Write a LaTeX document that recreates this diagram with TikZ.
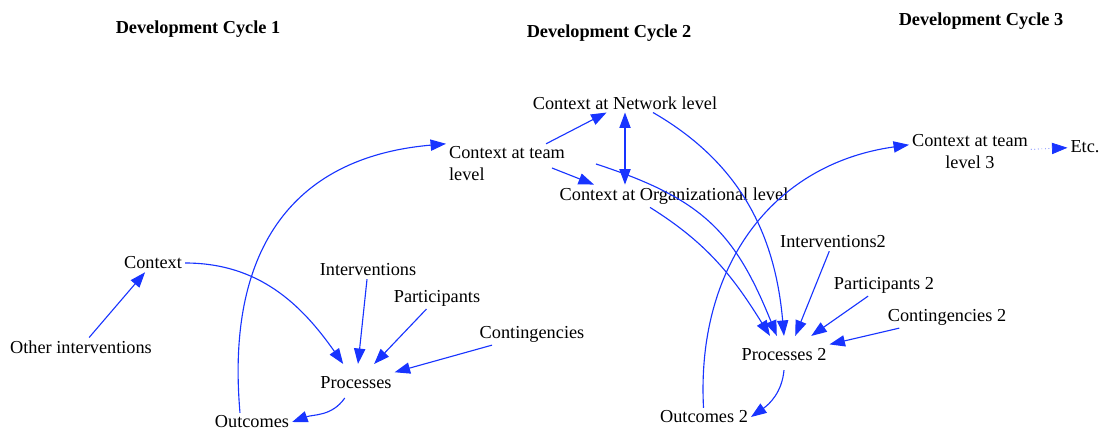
\documentclass[tikz,border=0pt]{standalone}
\usepackage{fontspec}
\setmainfont{Liberation Serif}
\usetikzlibrary{arrows.meta}
\definecolor{linkblue}{RGB}{24,52,255}

\begin{document}
\begin{tikzpicture}[x=0.025cm, y=0.025cm, >={Triangle[length=11pt, width=8pt]},
  every node/.style={inner sep=2pt, font=\fontsize{13}{15.6}\selectfont},
  head/.style={font=\fontsize{13}{15.6}\selectfont\bfseries},
  proc/.style={inner ysep=9pt},
  link/.style={->, color=linkblue, line width=0.8pt}]
  \useasboundingbox (0,0) rectangle (1100,-431);
  \node[head] (h1) at (198, -29) {Development Cycle 1};
  \node[head] (h2) at (609, -33) {Development Cycle 2};
  \node[head] (h3) at (981, -21) {Development Cycle 3};
  \node (oth) at (81, -347) {Other interventions};
  \node (ctx) at (153, -263) {Context};
  \node (int) at (368, -270) {Interventions};
  \node (par) at (437, -298) {Participants};
  \node (cont) at (532, -334) {Contingencies};
  \node[proc] (proc) at (356, -383) {Processes};
  \node (out) at (252, -422) {Outcomes};
  \node[align=left] (team) at (507, -164) {Context at team\\level};
  \node (net) at (625, -103) {Context at Network level};
  \node (org) at (674, -196) {Context at Organizational level};
  \node (int2) at (833, -242) {Interventions2};
  \node (par2) at (884, -285) {Participants 2};
  \node (cont2) at (947, -317) {Contingencies 2};
  \node[proc] (proc2) at (784, -355) {Processes 2};
  \node (out2) at (704, -417) {Outcomes 2};
  \node[align=center] (team3) at (970, -152) {Context at team\\level 3};
  \node (etc) at (1085, -147) {Etc.};
  \draw[link] (oth) -- (ctx);
  \draw[link] (ctx.east) to[out=0, in=125] ([xshift=-0.32cm]proc.north);
  \draw[link] (int) -- (proc);
  \draw[link] (par) -- (proc);
  \draw[link] (cont) -- (proc);
  \draw[link] ([xshift=-0.28cm, yshift=0.1cm]proc.south) to[out=-125, in=20] (out.east);
  \draw[link] ([xshift=-0.3cm]out.north) to[out=95, in=185, looseness=1.2] (team.north west);
  \draw[link] (team) -- (net);
  \draw[link] ([xshift=-0.4cm, yshift=-0.1cm]team.east) -- ([xshift=-2cm]org.north);
  \draw[link, <->] (net.south) -- (net.south |- org.north);
  \draw[link] ([xshift=0.7cm]net.south) to[out=-30, in=95] (proc2.north);
  \draw[link] ([xshift=0.7cm]team.east) to[out=-18, in=112, looseness=1.15] ([xshift=-0.18cm]proc2.north);
  \draw[link] ([xshift=-0.6cm]org.south) to[out=-32, in=122] ([xshift=-0.35cm]proc2.north);
  \draw[link] (int2) -- ([xshift=0.28cm]proc2.north);
  \draw[link] (par2) -- (proc2);
  \draw[link] (cont2) -- (proc2);
  \draw[link] ([yshift=0.1cm]proc2.south) to[out=-95, in=35] (out2.east);
  \draw[link] (out2) to[out=93, in=188, looseness=1.07] ([yshift=0.18cm]team3.west);
  \draw[link, line width=0.5pt, dotted] (team3) -- (etc);
\end{tikzpicture}
\end{document}
